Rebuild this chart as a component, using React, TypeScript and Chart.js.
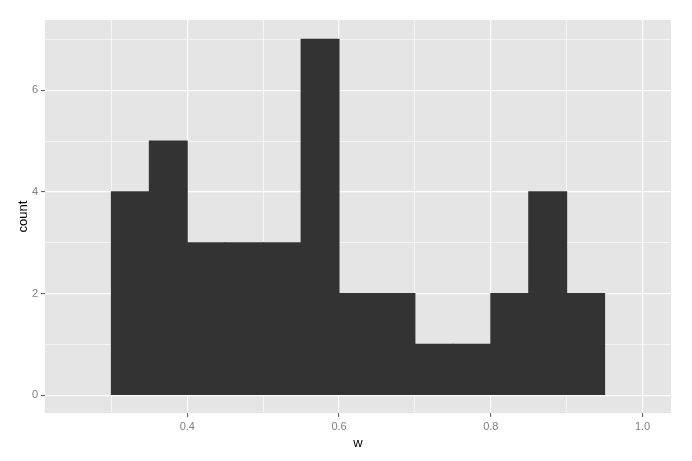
import React, { useEffect, useRef } from "react";
import { Chart, registerables } from "chart.js";

Chart.register(...registerables);

const binCenters = [0.325, 0.375, 0.425, 0.475, 0.525, 0.575, 0.625, 0.675, 0.725, 0.775, 0.825, 0.875, 0.925];
const counts = [4, 5, 3, 3, 3, 7, 2, 2, 1, 1, 2, 4, 2];
const xTicks = [0.3, 0.4, 0.5, 0.6, 0.7, 0.8, 0.9, 1.0];
const xMajor = [0.4, 0.6, 0.8, 1.0];
const yTicks = [0, 1, 2, 3, 4, 5, 6, 7];
const yMajor = [0, 2, 4, 6];

const isMajor = (v: number, list: number[]) => list.some((m) => Math.abs(m - v) < 1e-6);

const panelBg = {
  id: "panelBg",
  beforeDraw(chart: any) {
    const { ctx, chartArea } = chart;
    ctx.save();
    ctx.fillStyle = "#E5E5E5";
    ctx.fillRect(chartArea.left, chartArea.top, chartArea.right - chartArea.left, chartArea.bottom - chartArea.top);
    ctx.restore();
  },
};

const FONT = "Liberation Sans, Arial, sans-serif";

export default function App() {
  const ref = useRef<HTMLCanvasElement>(null);
  useEffect(() => {
    document.body.style.margin = "0";
    const chart = new Chart(ref.current!, {
      type: "bar",
      data: {
        datasets: [
          {
            data: binCenters.map((x, i) => ({ x, y: counts[i] })),
            backgroundColor: "#333333",
            borderWidth: 0,
            inflateAmount: 0.5,
            barPercentage: 1,
            categoryPercentage: 1,
          },
        ],
      },
      options: {
        animation: false,
        responsive: false,
        maintainAspectRatio: false,
        layout: { padding: { top: 20, right: 21, left: 0, bottom: 0 } },
        plugins: { legend: { display: false }, tooltip: { enabled: false } },
        scales: {
          x: {
            type: "linear",
            min: 0.2125,
            max: 1.0375,
            offset: false,
            afterBuildTicks: (s: any) => {
              s.ticks = xTicks.map((v) => ({ value: v }));
            },
            afterFit: (s: any) => {
              s.height = 48;
            },
            border: { display: false },
            grid: {
              offset: false,
              color: "#FFFFFF",
              lineWidth: (c: any) => (isMajor(c.tick?.value, xMajor) ? 1.2 : 0.6),
              tickColor: (c: any) => (isMajor(c.tick?.value, xMajor) ? "#555555" : "rgba(0,0,0,0)"),
              tickLength: 4,
              tickWidth: 1,
              drawTicks: true,
            },
            ticks: {
              autoSkip: false,
              maxRotation: 0,
              color: "#7F7F7F",
              font: { family: FONT, size: 11 },
              padding: 3,
              callback: (v: any) => (isMajor(Number(v), xMajor) ? Number(v).toFixed(1) : ""),
            },
            title: {
              display: true,
              text: "w",
              color: "#000000",
              font: { family: FONT, size: 13 },
              padding: { top: 0, bottom: 10 },
            },
          },
          y: {
            type: "linear",
            min: -0.35,
            max: 7.38,
            afterBuildTicks: (s: any) => {
              s.ticks = yTicks.map((v) => ({ value: v }));
            },
            afterFit: (s: any) => {
              s.width = 45;
            },
            border: { display: false },
            grid: {
              offset: false,
              color: "#FFFFFF",
              lineWidth: (c: any) => (isMajor(c.tick?.value, yMajor) ? 1.2 : 0.6),
              tickColor: (c: any) => (isMajor(c.tick?.value, yMajor) ? "#555555" : "rgba(0,0,0,0)"),
              tickLength: 4,
              tickWidth: 1,
              drawTicks: true,
            },
            ticks: {
              autoSkip: false,
              color: "#7F7F7F",
              font: { family: FONT, size: 11 },
              padding: 3,
              callback: (v: any) => (isMajor(Number(v), yMajor) ? String(v) : ""),
            },
            title: {
              display: true,
              text: "count",
              color: "#000000",
              font: { family: FONT, size: 13 },
              padding: { top: 16, bottom: 0 },
            },
          },
        },
      },
      plugins: [panelBg],
    });
    return () => chart.destroy();
  }, []);
  return (
    <div style={{ position: "absolute", left: 0, top: 0, width: 692, height: 461 }}>
      <canvas ref={ref} width={692} height={461} style={{ width: 692, height: 461 }} />
    </div>
  );
}
